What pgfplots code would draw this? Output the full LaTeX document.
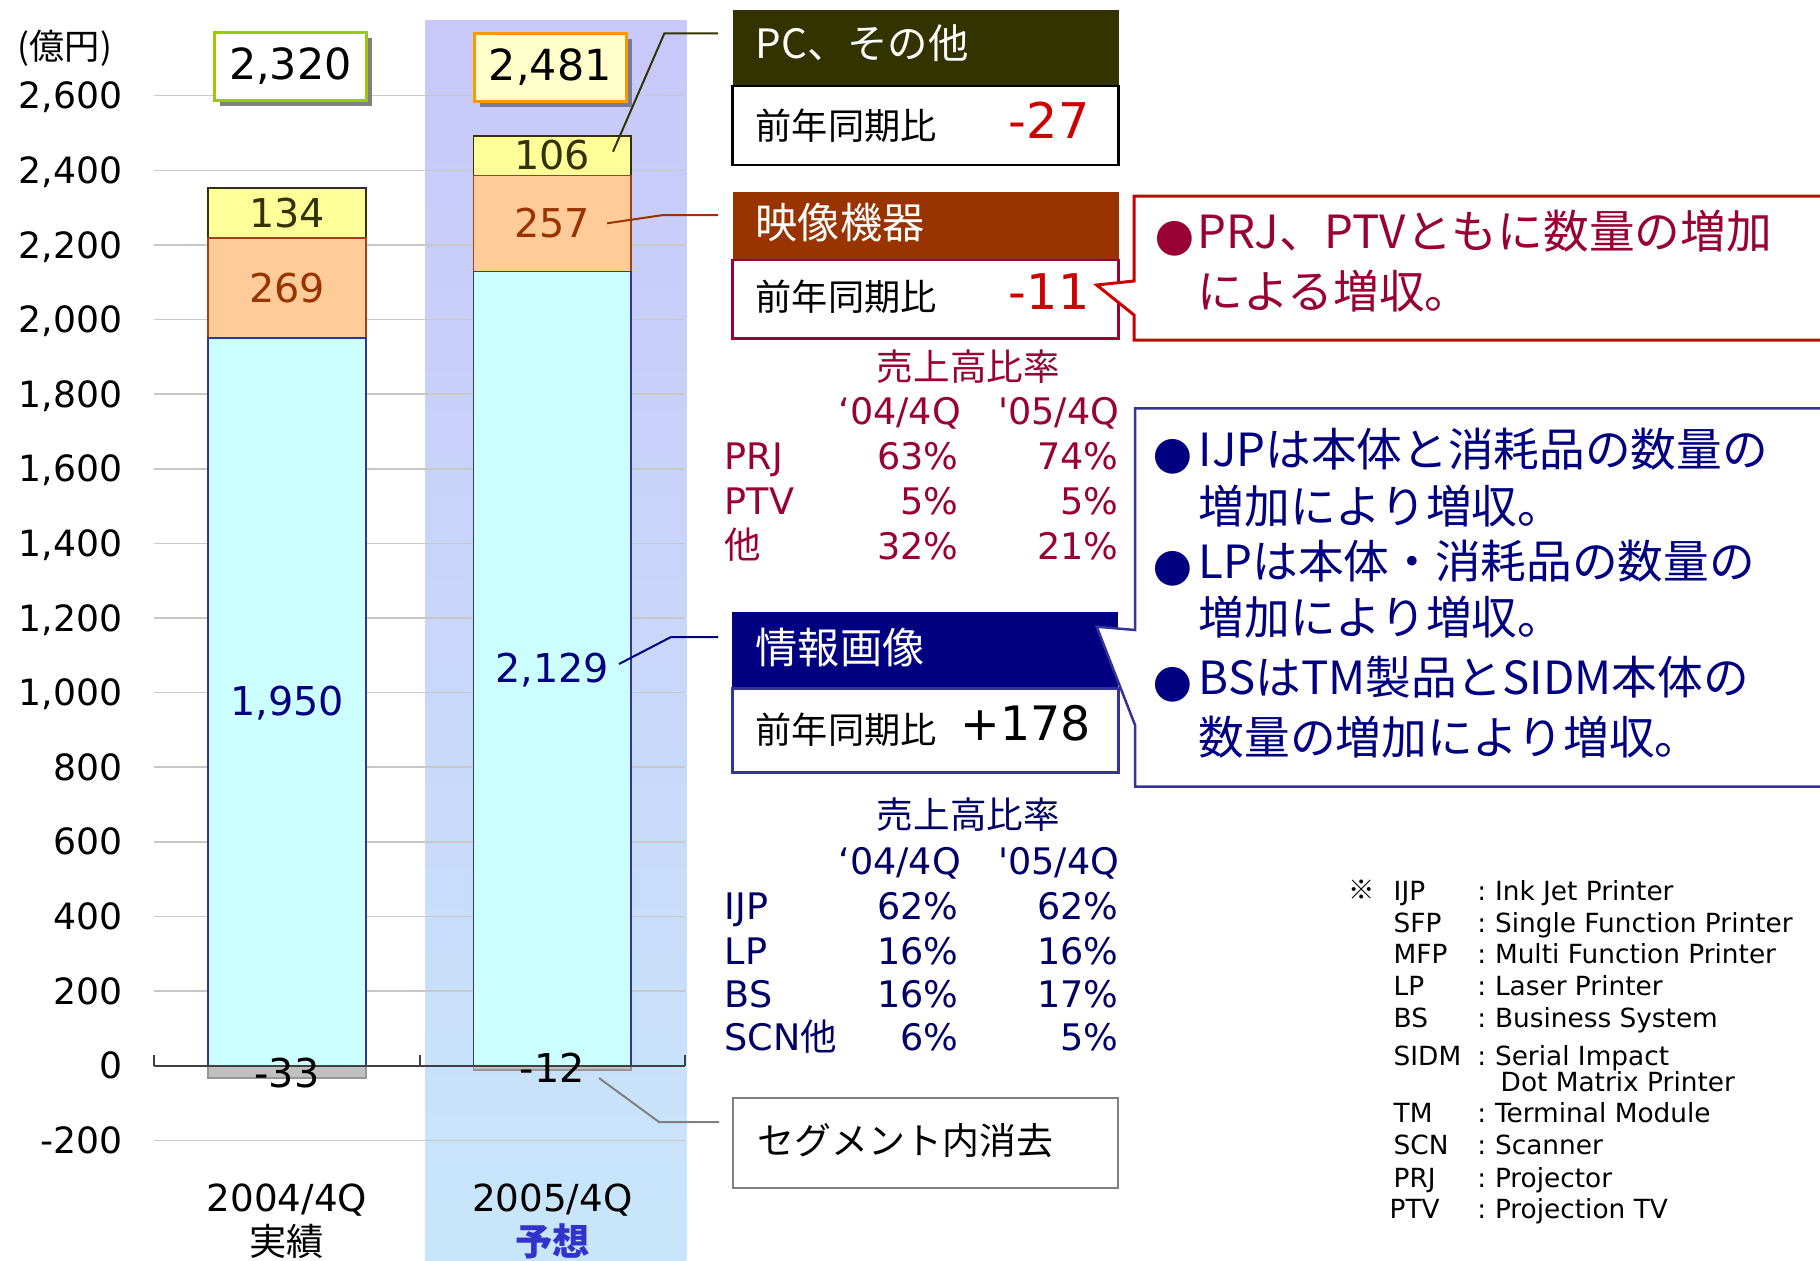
\documentclass[border=0pt]{standalone}
\usepackage{fontspec}
\usepackage{pgfplots}
\pgfplotsset{compat=1.18}
\setmainfont{DejaVu Sans}[Ligatures=TeXOff]
\newfontfamily\jp{Noto Sans CJK JP}
\newcommand{\fs}[1]{\fontsize{#1pt}{#1pt}\selectfont}
\definecolor{lav}{HTML}{C8C8FA}
\definecolor{lblue}{HTML}{C8E6FA}
\definecolor{cyanbar}{HTML}{CCFFFF}
\definecolor{cyanbd}{HTML}{333399}
\definecolor{orgbar}{HTML}{FFCC99}
\definecolor{orgbd}{HTML}{A0401A}
\definecolor{yelbar}{HTML}{FFFF99}
\definecolor{yelbd}{HTML}{333300}
\definecolor{graybar}{HTML}{C0C0C0}
\definecolor{graybd}{HTML}{969696}
\definecolor{gridc}{HTML}{C8C8C8}
\definecolor{cOlive}{HTML}{333300}
\definecolor{cBrown}{HTML}{993300}
\definecolor{cNavy}{HTML}{000080}
\definecolor{crim}{HTML}{990033}
\definecolor{redc}{HTML}{CC0000}
\definecolor{blueb}{HTML}{333399}
\definecolor{tnavy}{HTML}{000066}
\definecolor{yosou}{HTML}{3333CC}
\definecolor{grnb}{HTML}{99CC00}
\definecolor{orgb}{HTML}{FF9900}
\definecolor{lyel}{HTML}{FFFFCC}
\definecolor{shad}{HTML}{808080}
\definecolor{shad2}{HTML}{7A7A9A}
\definecolor{axc}{HTML}{404040}
\begin{document}
\begin{tikzpicture}
\path[fill=white, use as bounding box] (0,0) rectangle (182mm,126mm);
\begin{scope}[x=0.1mm,y=-0.1mm,shift={(0,126mm)}]
\shade[top color=lav, bottom color=lblue] (425,20) rectangle (686.4,1260);
\end{scope}

\begin{axis}[
  at={(15.43mm,11.97mm)}, anchor=south west,
  scale only axis, width=53.07mm, height=104.46mm,
  xmin=-0.5, xmax=1.5, ymin=-200, ymax=2600,
  ytick={-200,0,...,2600},
  ymajorgrids, grid style={draw=gridc, line width=0.15mm},
  axis line style={draw=none},
  major tick length=0pt,
  xtick={0,1},
  xticklabels={{2004/4Q\\{\jp 実績}},{2005/4Q\\{\jp\bfseries\color{yosou}予想}}},
  xticklabel style={anchor=north, inner sep=0pt, yshift=-4.27mm, align=center, font=\fontsize{10.6pt}{12.5pt}\selectfont},
  yticklabel style={font=\fs{10.3}, inner sep=0pt, anchor=mid east, xshift=-3.1mm, yshift=-0.35mm},
  /pgf/number format/assume math mode=true,
  /pgf/number format/1000 sep={,},
  ybar stacked, bar width=15.76mm,
  clip=false,
]
\addplot[fill=cyanbar, draw=cyanbd, line width=0.15mm] coordinates {(0,1950) (1,2129)};
\addplot[fill=orgbar, draw=orgbd, line width=0.15mm] coordinates {(0,269) (1,257)};
\addplot[fill=yelbar, draw=yelbd, line width=0.15mm] coordinates {(0,134) (1,106)};
\end{axis}

\begin{axis}[
  at={(15.43mm,11.97mm)}, anchor=south west,
  scale only axis, width=53.07mm, height=104.46mm,
  xmin=-0.5, xmax=1.5, ymin=-200, ymax=2600,
  hide axis, ybar, bar width=15.76mm, bar shift=0pt, clip=false,
]
\addplot[fill=graybar, draw=graybd, line width=0.15mm] coordinates {(0,-33) (1,-12)};
\draw[axc, line width=0.2mm] (axis cs:-0.5,0) -- (axis cs:1.5,0);
\draw[axc, line width=0.2mm] (axis cs:-0.5,0) -- ([yshift=1.07mm]axis cs:-0.5,0);
\draw[axc, line width=0.2mm] (axis cs:0.5,0) -- ([yshift=1.07mm]axis cs:0.5,0);
\draw[axc, line width=0.2mm] (axis cs:1.5,0) -- ([yshift=1.07mm]axis cs:1.5,0);
\begin{scope}[every node/.style={font=\fs{11.3}, inner sep=0pt}]
\node[text=cOlive] at (axis cs:0,2284.6) {134};
\node[text=cBrown] at (axis cs:0,2083.6) {269};
\node[text=cNavy] at (axis cs:0,971) {1,950};
\node at (axis cs:0,-19.6) {-33};
\node[text=cOlive] at (axis cs:1,2440.9) {106};
\node[text=cBrown] at (axis cs:1,2257.8) {257};
\node[text=cNavy] at (axis cs:1,1060.6) {2,129};
\node at (axis cs:1,-6.2) {-12};
\end{scope}
\end{axis}

\begin{scope}[x=0.1mm,y=-0.1mm,shift={(0,126mm)}, every node/.style={inner sep=0pt}]
% totals
\fill[shad] (219.9,37.6) rectangle (371.9,106);
\draw[grnb, line width=0.3mm, fill=white] (214.4,32.3) rectangle (366.4,100.7);
\node[font=\fs{12.2}] at (290.4,66.5) {2,320};
\fill[shad2] (479.8,38.6) rectangle (631.8,107);
\draw[orgb, line width=0.3mm, fill=lyel] (474.3,33.3) rectangle (626.3,101.7);
\node[font=\fs{12.2}] at (550.3,67.5) {2,481};
\node[font=\jp\fs{10}] at (65,48) {(億円)};
% leaders
\draw[cOlive, line width=0.2mm] (613,151.7) -- (664.4,33.3) -- (718,33.3);
\draw[cBrown, line width=0.2mm] (607,223.3) -- (663.4,215) -- (718,215);
\draw[cNavy, line width=0.2mm] (619,664) -- (671,637) -- (718,637);
\draw[shad, line width=0.2mm] (599,1078) -- (659,1122) -- (719,1122);
% PC box
\fill[cOlive] (732.6,10) rectangle (1118.5,85);
\node[anchor=mid west, text=white, font=\jp\fs{11.5}] at (755,48.5) {PC、その他};
\draw[black, line width=0.25mm, fill=white] (732.6,86) rectangle (1118.5,165);
\node[anchor=mid west, font=\jp\fs{10.3}] at (755,130) {前年同期比};
\node[anchor=mid east, text=redc, font=\fs{14}] at (1090,129) {-27};
% Eizo box
\fill[cBrown] (732.6,191.7) rectangle (1118.5,260);
\node[anchor=mid west, text=white, font=\jp\fs{12}] at (755,228.7) {映像機器};
\draw[crim, line width=0.25mm, fill=white] (732.6,260) rectangle (1118.5,338.3);
\node[anchor=mid west, font=\jp\fs{10.3}] at (755,301) {前年同期比};
\node[anchor=mid east, text=redc, font=\fs{14}] at (1090,299.5) {-11};
% red callout
\draw[redc, line width=0.3mm, fill=white] (1134,196) -- (1830,196) -- (1830,340) -- (1134,340) -- (1134,315) -- (1096.7,285) -- (1134,281) -- cycle;
\node[text=crim, font=\jp\fs{11}] at (1175,239) {●};
\node[anchor=mid west, text=crim, font=\jp\fs{13}] at (1197,239) {PRJ、PTVともに数量の増加};
\node[anchor=mid west, text=crim, font=\jp\fs{13}] at (1197,299) {による増収。};
% red table
\begin{scope}[every node/.style={inner sep=0pt, text=crim, font=\fs{10.4}}]
\node[font=\jp\fs{10.4}] at (968.3,366.7) {売上高比率};
\node[anchor=mid east] at (961.7,415) {\char"2018 04/4Q};
\node[anchor=mid east] at (1120,415) {'05/4Q};
\node[anchor=mid west] at (724,460) {PRJ};
\node[anchor=mid east] at (959,460) {63\%};
\node[anchor=mid east] at (1119,460) {74\%};
\node[anchor=mid west] at (724,505) {PTV};
\node[anchor=mid east] at (959,505) {5\%};
\node[anchor=mid east] at (1119,505) {5\%};
\node[anchor=mid west, font=\jp\fs{10.4}] at (724,548.7) {他};
\node[anchor=mid east] at (959,550) {32\%};
\node[anchor=mid east] at (1119,550) {21\%};
\end{scope}
% Joho box
\fill[cNavy] (732.3,611.7) rectangle (1118.3,688.3);
\node[anchor=mid west, text=white, font=\jp\fs{12}] at (755,653.7) {情報画像};
\draw[blueb, line width=0.25mm, fill=white] (732.3,688.3) rectangle (1118.3,772.7);
\node[anchor=mid west, font=\jp\fs{10.3}] at (755,733.5) {前年同期比};
\node[anchor=mid east, font=\fs{13.5}] at (1091.7,731) {+178};
% blue callout
\draw[blueb, line width=0.25mm, fill=white] (1135,408.3) -- (1830,408.3) -- (1830,786.7) -- (1135,786.7) -- (1135,725) -- (1096.7,626.7) -- (1135,630) -- cycle;
\begin{scope}[every node/.style={inner sep=0pt, text=cNavy, font=\jp\fs{13}, anchor=mid west}]
\node[anchor=center, font=\jp\fs{11}] at (1172.5,457) {●};
\node at (1198,457) {IJPは本体と消耗品の数量の};
\node at (1198,513.7) {増加により増収。};
\node[anchor=center, font=\jp\fs{11}] at (1172.5,568.7) {●};
\node at (1198,568.7) {LPは本体・消耗品の数量の};
\node at (1198,625) {増加により増収。};
\node[anchor=center, font=\jp\fs{11}] at (1172.5,685) {●};
\node at (1198,685) {BSはTM製品とSIDM本体の};
\node at (1198,745) {数量の増加により増収。};
\end{scope}
% blue table
\begin{scope}[every node/.style={inner sep=0pt, text=tnavy, font=\fs{10.4}}]
\node[font=\jp\fs{10.4}] at (968.3,815) {売上高比率};
\node[anchor=mid east] at (961.7,865) {\char"2018 04/4Q};
\node[anchor=mid east] at (1120,865) {'05/4Q};
\node[anchor=mid west] at (724,910) {IJP};
\node[anchor=mid east] at (959,910) {62\%};
\node[anchor=mid east] at (1119,910) {62\%};
\node[anchor=mid west] at (724,955) {LP};
\node[anchor=mid east] at (959,955) {16\%};
\node[anchor=mid east] at (1119,955) {16\%};
\node[anchor=mid west] at (724,998.3) {BS};
\node[anchor=mid east] at (959,998.3) {16\%};
\node[anchor=mid east] at (1119,998.3) {17\%};
\node[anchor=mid west] at (724,1041.3) {SCN{\jp 他}};
\node[anchor=mid east] at (959,1041.3) {6\%};
\node[anchor=mid east] at (1119,1041.3) {5\%};
\end{scope}
% segment box
\draw[shad, line width=0.2mm, fill=white] (732.9,1098.3) rectangle (1117.9,1188.3);
\node[anchor=mid west, font=\jp\fs{10.5}] at (757,1145) {セグメント内消去};
% legend
\begin{scope}[every node/.style={inner sep=0pt, font=\fs{7.5}, anchor=mid west}]
\node[anchor=center, font=\jp\fs{7.5}] at (1362,890) {※};
\foreach \ab/\de/\yy in {IJP/Ink Jet Printer/888.3, SFP/Single Function Printer/920, MFP/Multi Function Printer/951.7, LP/Laser Printer/983.3, BS/Business System/1015, SIDM/Serial Impact/1053.3, TM/Terminal Module/1110.7, SCN/Scanner/1142.7, PRJ/Projector/1175}{
  \node at (1393,\yy+2.4) {\ab};
  \node at (1476.7,\yy+2.4) {:};
  \node at (1494.3,\yy+2.4) {\de};
}
\node at (1500,1081.7) {Dot Matrix Printer};
\node at (1389,1209.1) {PTV};
\node at (1476.7,1209.1) {:};
\node at (1494.3,1209.1) {Projection TV};
\end{scope}
\end{scope}
\end{tikzpicture}
\end{document}
